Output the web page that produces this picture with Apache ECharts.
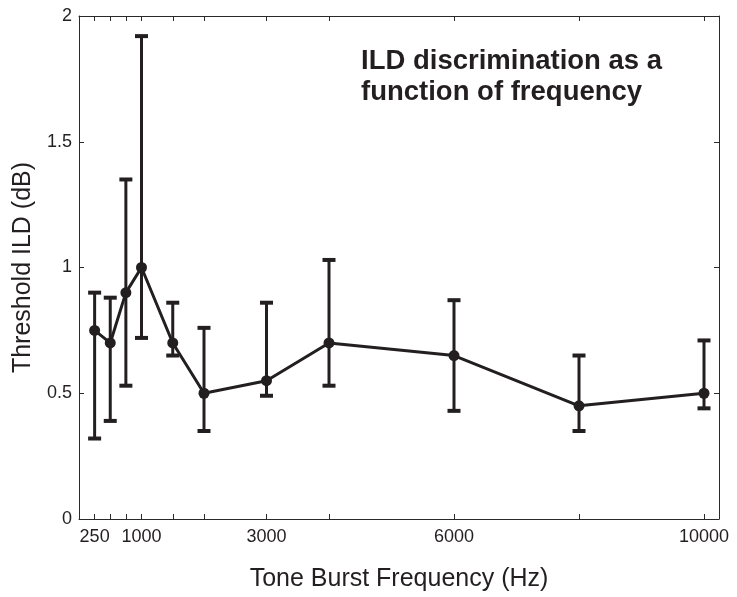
<!DOCTYPE html>
<html><head><meta charset="utf-8">
<script src="https://cdn.jsdelivr.net/npm/echarts@6/dist/echarts.min.js"></script>
<style>html,body{margin:0;padding:0;background:#fff}#c{width:737px;height:597px}</style>
</head><body><div id="c"></div>
<script>
const freqs = [250, 500, 750, 1000, 1500, 2000, 3000, 4000, 6000, 8000, 10000];
const thresholds = [0.75, 0.70, 0.90, 1.00, 0.70, 0.50, 0.55, 0.70, 0.65, 0.45, 0.50];
const errLow = [0.32, 0.39, 0.53, 0.72, 0.65, 0.35, 0.49, 0.53, 0.43, 0.35, 0.44];
const errHigh = [0.90, 0.88, 1.35, 1.92, 0.86, 0.76, 0.86, 1.03, 0.87, 0.65, 0.71];
const xTickLabels = [250, 1000, 3000, 6000, 10000];
const yTickValues = [0, 0.5, 1, 1.5, 2];

const ink = '#231f20';
const frame = '#2a2a2a';
const font = 'Liberation Sans, Arial, Helvetica, sans-serif';

const lineData = freqs.map((f, i) => [f, thresholds[i]]);
const errData = freqs.map((f, i) => [f, errLow[i], errHigh[i]]);

const chart = echarts.init(document.getElementById('c'), null, {renderer: 'canvas'});

const baseX = {
  type: 'value', min: 0, max: 10240,
  splitLine: {show: false},
  axisLine: {show: true, onZero: false, lineStyle: {color: frame, width: 1}},
  axisTick: {show: true, inside: true, length: 5, customValues: freqs, lineStyle: {color: frame, width: 1}}
};
const baseY = {
  type: 'value', min: 0, max: 2, interval: 0.5,
  splitLine: {show: false},
  axisLine: {show: true, onZero: false, lineStyle: {color: frame, width: 1}},
  axisTick: {show: true, inside: true, length: 5, customValues: yTickValues, lineStyle: {color: frame, width: 1}}
};

chart.setOption({
  animation: false,
  backgroundColor: '#fff',
  title: {
    text: 'ILD discrimination as a\nfunction of frequency',
    left: 361, top: 46, padding: 0,
    textStyle: {fontFamily: font, fontSize: 27.5, fontWeight: 'bold', color: ink, lineHeight: 31}
  },
  grid: {left: 79, top: 16, width: 640, height: 505, containLabel: false},
  xAxis: [
    Object.assign({}, baseX, {
      position: 'bottom',
      name: 'Tone Burst Frequency (Hz)', nameLocation: 'middle', nameGap: 48,
      nameTextStyle: {fontFamily: font, fontSize: 25, color: ink},
      axisLabel: {show: true, customValues: xTickLabels, margin: 9,
        fontFamily: font, fontSize: 18, color: ink, formatter: v => String(v)}
    }),
    Object.assign({}, baseX, {position: 'top', axisLabel: {show: false}})
  ],
  yAxis: [
    Object.assign({}, baseY, {
      position: 'left',
      name: 'Threshold ILD (dB)', nameLocation: 'middle', nameGap: 43,
      nameTextStyle: {fontFamily: font, fontSize: 25, color: ink},
      axisLabel: {show: true, margin: 7, fontFamily: font, fontSize: 18, color: ink,
        formatter: v => String(v)}
    }),
    Object.assign({}, baseY, {position: 'right', axisLabel: {show: false}})
  ],
  series: [
    {
      type: 'custom',
      xAxisIndex: 0, yAxisIndex: 0,
      data: errData,
      encode: {x: 0, y: [1, 2]},
      z: 2,
      renderItem: function (params, api) {
        const x = api.value(0), lo = api.value(1), hi = api.value(2);
        const pLo = api.coord([x, lo]);
        const pHi = api.coord([x, hi]);
        const hw = 6.5;
        const style = {stroke: ink, lineWidth: 3, fill: null};
        const cap = {stroke: ink, lineWidth: 4, fill: null};
        return {
          type: 'group',
          children: [
            {type: 'line', shape: {x1: pLo[0], y1: pLo[1], x2: pHi[0], y2: pHi[1]}, style: style},
            {type: 'line', shape: {x1: pLo[0] - hw, y1: pLo[1], x2: pLo[0] + hw, y2: pLo[1]}, style: cap},
            {type: 'line', shape: {x1: pHi[0] - hw, y1: pHi[1], x2: pHi[0] + hw, y2: pHi[1]}, style: cap}
          ]
        };
      }
    },
    {
      type: 'line',
      xAxisIndex: 0, yAxisIndex: 0,
      data: lineData,
      z: 3,
      symbol: 'circle', symbolSize: 11,
      lineStyle: {color: ink, width: 3},
      itemStyle: {color: ink},
      emphasis: {disabled: true}
    }
  ]
});
</script>
</body></html>
